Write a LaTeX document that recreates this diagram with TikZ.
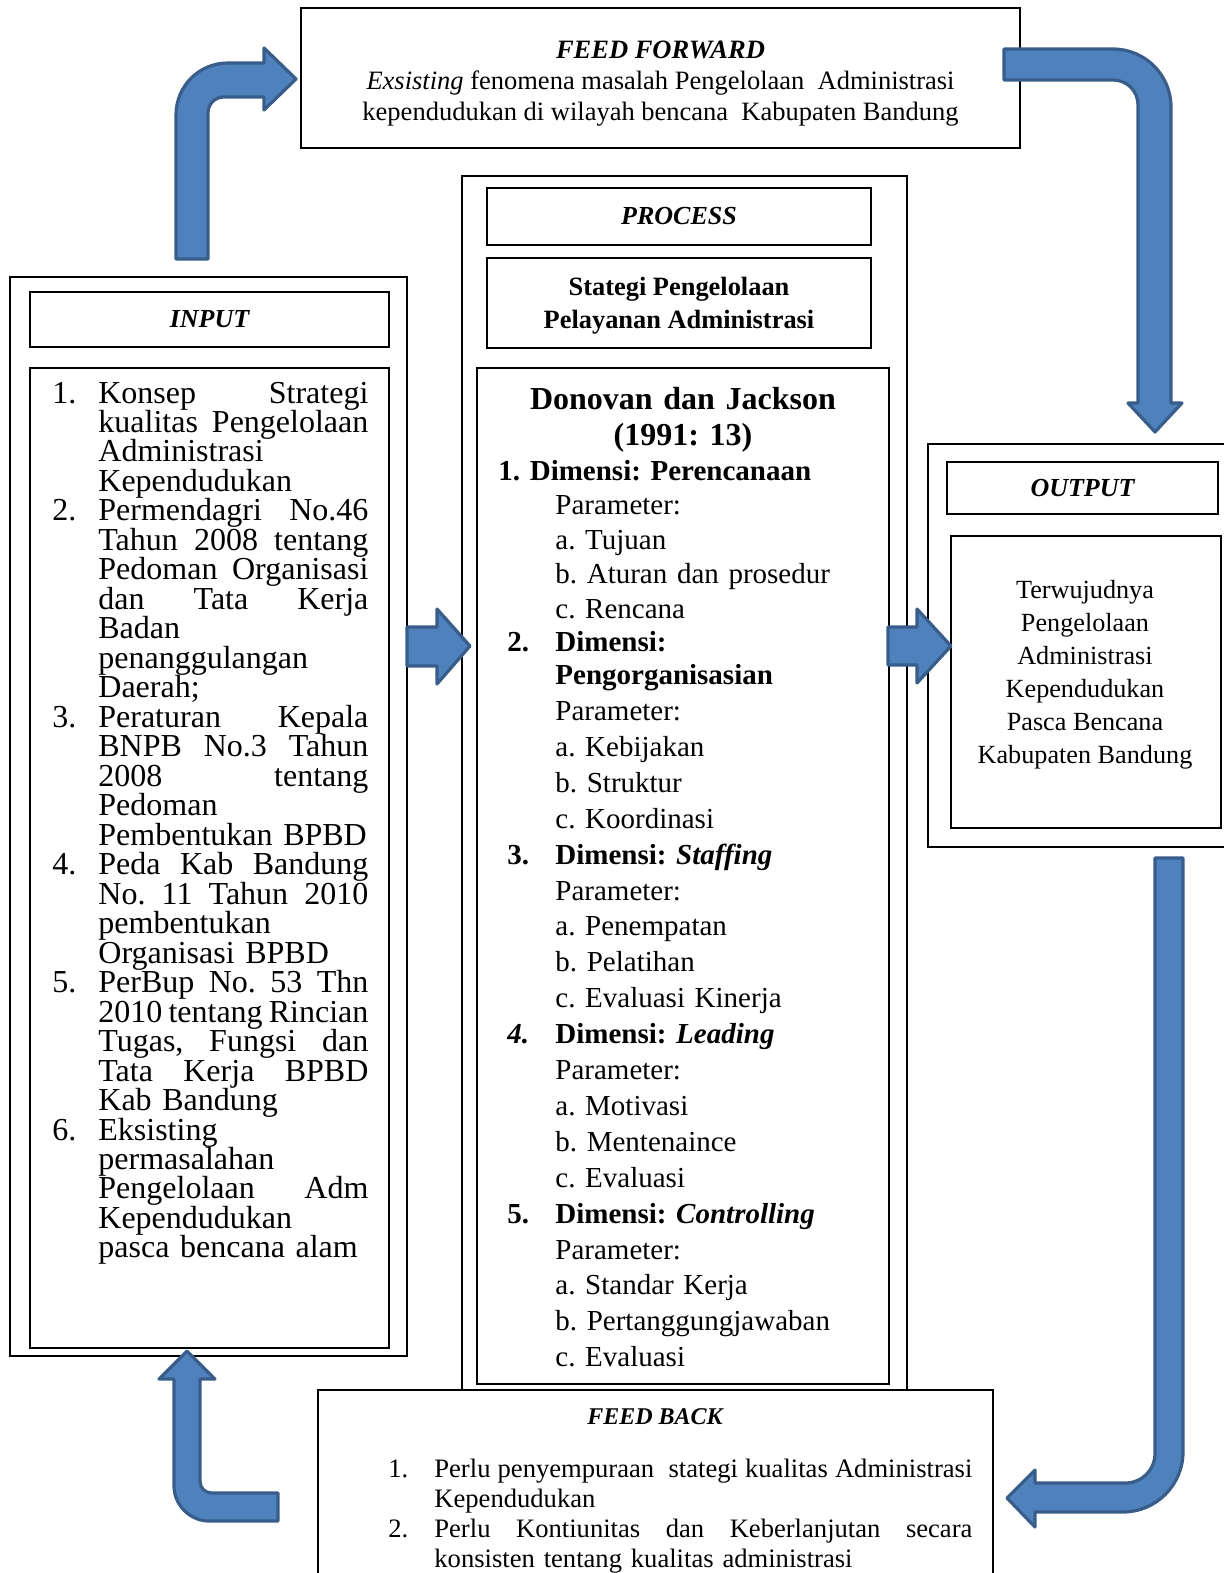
\documentclass[tikz,border=0pt]{standalone}
\usepackage{fontspec}
\setmainfont{Liberation Serif}
\usetikzlibrary{fit}
\definecolor{arrowfill}{RGB}{79,129,189}
\definecolor{arrowline}{RGB}{56,93,138}
% list helpers
\newcommand{\inum}[1]{\makebox[23pt][l]{#1}}
\newcommand{\iskip}{\hspace*{23pt}}
\newcommand{\inj}[1]{\hbox to 135pt{\spaceskip=0.25em plus 1fil minus 0.1em\relax #1}}
\newcommand{\fbj}[1]{\hbox to 269pt{\spaceskip=0.25em plus 1fil minus 0.1em\relax #1}}
\newcommand{\psub}{\hspace*{28.5pt}}
\newcommand{\pnum}[1]{\hspace*{4.5pt}\makebox[24pt][l]{#1}}
\AtBeginDocument{\frenchspacing}

\begin{document}
\begin{tikzpicture}[x=0.5pt, y=-0.5pt,
    frame/.style = {draw, line width=1pt, inner sep=0pt, fit={#1}},
    title/.style = {inner sep=0pt, font=\fontsize{13pt}{15.5pt}\selectfont\bfseries\itshape},
    body/.style = {inner sep=0pt, align=center, font=\fontsize{13.25pt}{15.5pt}\selectfont},
    inlist/.style = {anchor=base west, inner sep=0pt, text width=158pt, font=\fontsize{16pt}{14.74pt}\selectfont},
    prhead/.style = {anchor=base, inner sep=0pt, text width=200pt, align=center, font=\fontsize{16pt}{18.25pt}\selectfont\bfseries},
    prlist/.style = {anchor=base west, inner sep=0pt, text width=195pt, font=\fontsize{14.5pt}{17.95pt}\selectfont},
    fblist/.style = {anchor=base west, inner sep=0pt, text width=292pt, font=\fontsize{13.3pt}{15.1pt}\selectfont},
    blockarrow/.style = {fill=arrowfill, draw=arrowline, line width=1.6pt, line join=round}
]
\useasboundingbox (0,0) rectangle (1224,1573);
\clip (0,0) rectangle (1224,1573);

% feed forward
\node[frame={(301,8) (1020,148.5)}] (ff) {};
\node[body] (ff_text) at (660.5,83.5) {\textbf{\textit{FEED FORWARD}}\\
    \textit{Exsisting} fenomena masalah Pengelolaan\ \ Administrasi\\
    kependudukan di wilayah bencana\ \ Kabupaten Bandung};

% input
\node[frame={(10,277) (407,1356)}] (in_outer) {};
\node[frame={(30,292) (389,347)}] (in_title) {};
\node[title] (in_label) at (in_title.center) {INPUT};
\node[frame={(30,368) (389,1348)}] (in_box) {};
\node[inlist] (in_list) at (52,403) {%
\inum{1.}\inj{Konsep Strategi}\\
\iskip\inj{kualitas Pengelolaan}\\
\iskip Administrasi\\
\iskip Kependudukan\\
\inum{2.}\inj{Permendagri No.46}\\
\iskip\inj{Tahun 2008 tentang}\\
\iskip\inj{Pedoman Organisasi}\\
\iskip\inj{dan Tata Kerja}\\
\iskip Badan\\
\iskip penanggulangan\\
\iskip Daerah;\\
\inum{3.}\inj{Peraturan Kepala}\\
\iskip\inj{BNPB No.3 Tahun}\\
\iskip\inj{2008 tentang}\\
\iskip Pedoman\\
\iskip Pembentukan BPBD\\
\inum{4.}\inj{Peda Kab Bandung}\\
\iskip\inj{No. 11 Tahun 2010}\\
\iskip pembentukan\\
\iskip Organisasi BPBD\\
\inum{5.}\inj{PerBup No. 53 Thn}\\
\iskip\inj{2010 tentang Rincian}\\
\iskip\inj{Tugas, Fungsi dan}\\
\iskip\inj{Tata Kerja BPBD}\\
\iskip Kab Bandung\\
\inum{6.}Eksisting\\
\iskip permasalahan\\
\iskip\inj{Pengelolaan Adm}\\
\iskip Kependudukan\\
\iskip pasca bencana alam};

% process
\node[frame={(462,176) (907,1400)}] (pr_outer) {};
\node[frame={(487,188) (871,245)}] (pr_title) {};
\node[title] (pr_label) at (pr_title.center) {PROCESS};
\node[frame={(487,258) (871,348)}] (pr_strat) {};
\node[body, font=\fontsize{13.2pt}{16.5pt}\selectfont\bfseries] (pr_strat_text) at (679,305.5) {Stategi Pengelolaan\\Pelayanan Administrasi};
\node[frame={(477,368) (889,1384)}] (pr_box) {};
\node[prhead] (pr_head) at (683,409) {Donovan dan Jackson\\(1991: 13)};
\node[prlist] (pr_list) at (498,480) {%
\textbf{1. Dimensi: Perencanaan}\\[-0.65pt]
\psub Parameter:\\[-0.65pt]
\psub a. Tujuan\\[-0.65pt]
\psub b. Aturan dan prosedur\\[-0.65pt]
\psub c. Rencana\\[-1.4pt]
\pnum{\textbf{2.}}\textbf{Dimensi:}\\[-1.4pt]
\psub\textbf{Pengorganisasian}\\
\psub Parameter:\\
\psub a. Kebijakan\\
\psub b. Struktur\\
\psub c. Koordinasi\\
\pnum{\textbf{3.}}\textbf{Dimensi: \textit{Staffing}}\\
\psub Parameter:\\
\psub a. Penempatan\\
\psub b. Pelatihan\\
\psub c. Evaluasi Kinerja\\
\pnum{\textbf{\textit{4.}}}\textbf{Dimensi: \textit{Leading}}\\
\psub Parameter:\\
\psub a. Motivasi\\
\psub b. Mentenaince\\
\psub c. Evaluasi\\
\pnum{\textbf{5.}}\textbf{Dimensi: \textit{Controlling}}\\
\psub Parameter:\\
\psub a. Standar Kerja\\
\psub b. Pertanggungjawaban\\
\psub c. Evaluasi};

% output
\node[frame={(928,444) (1240,847)}] (out_outer) {};
\node[frame={(947,462) (1218,514)}] (out_title) {};
\node[title] (out_label) at (out_title.center) {OUTPUT};
\node[frame={(951,536) (1221,828)}] (out_box) {};
\node[body, font=\fontsize{13.1pt}{16.5pt}\selectfont] (out_text) at (1085,675) {Terwujudnya\\Pengelolaan\\Administrasi\\Kependudukan\\Pasca Bencana\\Kabupaten Bandung};

% feed back
\node[frame={(318,1390) (993,1600)}, fill=white] (fb) {};
\node[title, font=\fontsize{12pt}{14pt}\selectfont\bfseries\itshape] (fb_label) at (655,1417) {FEED BACK};
\node[fblist] (fb_list) at (388,1477) {%
\inum{1.}\fbj{Perlu penyempuraan\ \ stategi kualitas Administrasi}\\
\iskip Kependudukan\\
\inum{2.}\fbj{Perlu Kontiunitas dan Keberlanjutan secara}\\
\iskip konsisten tentang kualitas administrasi};

% block arrows
\draw[blockarrow] (176,259) -- (176,115) .. controls (176,86) and (199,63) .. (228,63) -- (264,63) -- (264,48) -- (296,79) -- (264,110) -- (264,97) -- (224,97) .. controls (215,97) and (208,104) .. (208,113) -- (208,259) -- cycle;
\draw[blockarrow] (1004,49) -- (1113,49) .. controls (1145,49) and (1171,75) .. (1171,107) -- (1171,403) -- (1182,403) -- (1155,432) -- (1128,403) -- (1138,403) -- (1138,105) .. controls (1138,91) and (1127,80) .. (1113,80) -- (1004,80) -- cycle;
\draw[blockarrow] (1155,858) -- (1155,1453) .. controls (1155,1470) and (1142,1483) .. (1125,1483) -- (1035,1483) -- (1035,1470) -- (1007,1498) -- (1035,1527) -- (1035,1512) -- (1123,1512) .. controls (1156,1512) and (1183,1485) .. (1183,1452) -- (1183,858) -- cycle;
\draw[blockarrow] (278,1493) -- (212,1493) .. controls (205,1493) and (200,1488) .. (200,1481) -- (200,1379) -- (215,1379) -- (187,1351) -- (159,1379) -- (174,1379) -- (174,1486) .. controls (174,1505) and (190,1521) .. (209,1521) -- (278,1521) -- cycle;
\draw[blockarrow] (407,627) -- (437,627) -- (437,609) -- (470,646) -- (437,684) -- (437,666) -- (407,666) -- cycle;
\draw[blockarrow] (888,627) -- (917,627) -- (917,609) -- (951,646) -- (917,683) -- (917,665) -- (888,665) -- cycle;

\end{tikzpicture}
\end{document}
